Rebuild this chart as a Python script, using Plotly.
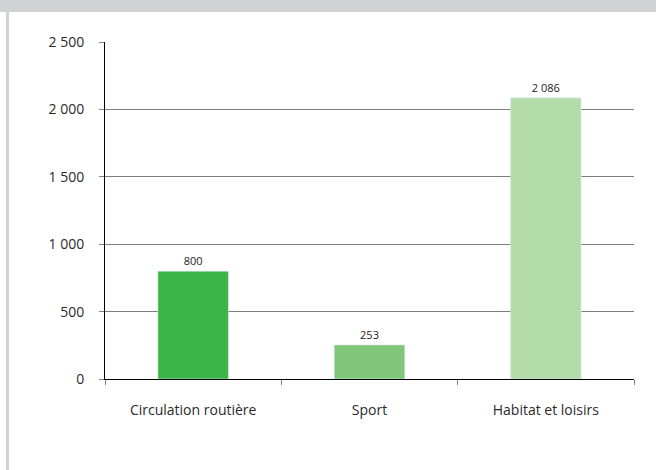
import plotly.graph_objects as go

categories = ["Circulation routière", "Sport", "Habitat et loisirs"]
values = [800, 253, 2086]
bar_colors = ["#3bb54a", "#80c77a", "#b3dcaa"]
y_ticks = [0, 500, 1000, 1500, 2000, 2500]

W, H = 656, 470
ML, MR, MT, MB = 105, 22, 42, 91
PW, PH = W - ML - MR, H - MT - MB

def px_x(x):
    return (x - ML) / PW

def px_y(y):
    return (H - MB - y) / PH

fig = go.Figure(go.Bar(
    x=categories, y=values, marker_color=bar_colors, width=0.4,
    texttemplate="%{y:,}", textposition="outside",
    textfont=dict(size=11, color="#222222", family="Open Sans"),
    cliponaxis=False,
))

fig.update_layout(
    width=W, height=H,
    margin=dict(l=ML, r=MR, t=MT, b=MB, pad=0),
    paper_bgcolor="white", plot_bgcolor="white",
    separators=", ",
    font=dict(family="Open Sans", size=14, color="#2a2a2a"),
    showlegend=False,
    xaxis=dict(
        type="category", tickson="boundaries", ticks="outside", ticklen=5,
        tickcolor="#808080", showline=True, linecolor="black", linewidth=1,
        showgrid=False, ticklabelstandoff=18,
        tickfont=dict(size=14, color="#2a2a2a"),
    ),
    yaxis=dict(
        range=[0, 2500], tickvals=y_ticks, tickformat=",", ticks="outside",
        ticklen=5, tickcolor="#808080", showline=True, linecolor="black",
        linewidth=1, showgrid=True, gridcolor="#808080", gridwidth=1,
        zeroline=False, ticklabelstandoff=12,
        tickfont=dict(size=14, color="#2a2a2a"),
    ),
    shapes=[
        dict(type="rect", xref="paper", yref="paper",
             x0=px_x(0), x1=px_x(W), y0=px_y(12), y1=px_y(0),
             fillcolor="#d1d2d4", line_width=0, layer="below"),
        dict(type="rect", xref="paper", yref="paper",
             x0=px_x(6), x1=px_x(9), y0=px_y(H), y1=px_y(12),
             fillcolor="#d1d2d4", line_width=0, layer="below"),
    ],
)

fig.write_html(
    "out.html",
    config={"displayModeBar": False},
    post_script="document.body.style.margin='0';document.body.style.overflow='hidden';",
)
